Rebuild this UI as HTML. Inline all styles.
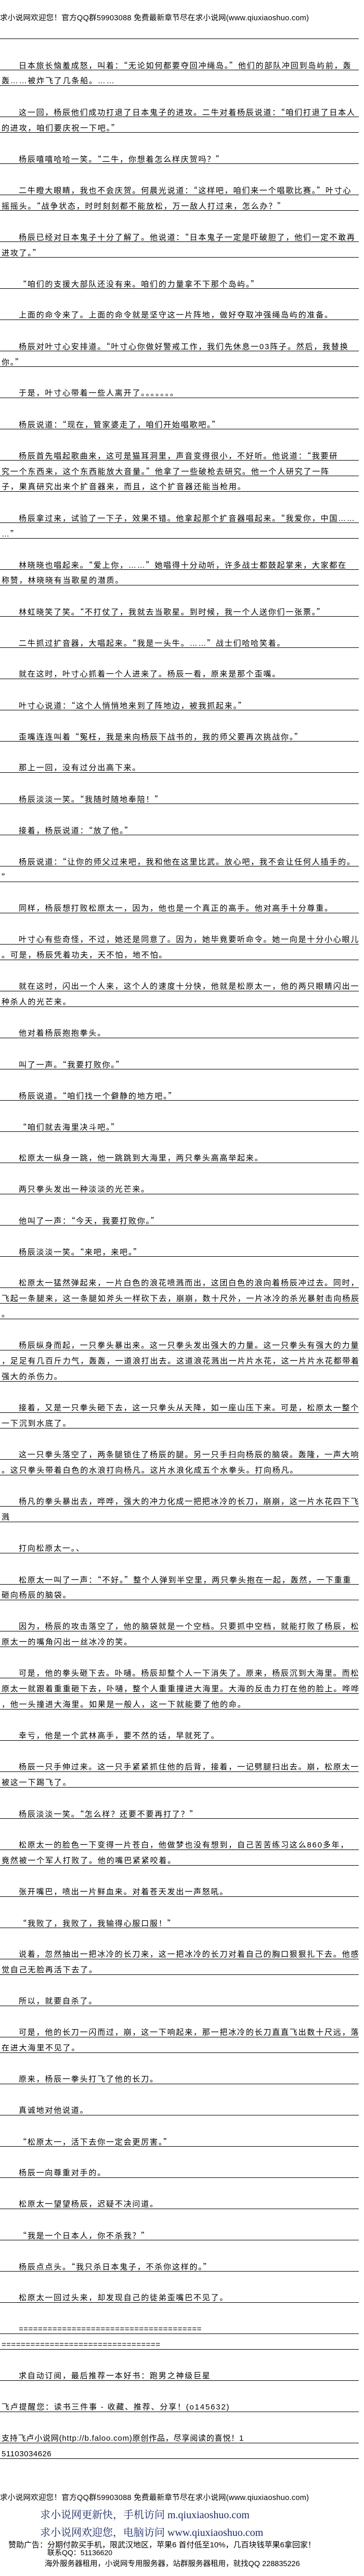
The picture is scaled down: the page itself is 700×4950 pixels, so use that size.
<!DOCTYPE html>
<html><head><meta charset="utf-8">
<style>
html,body{margin:0;padding:0;background:#fff;}
body{width:700px;height:4950px;position:relative;overflow:hidden;font-family:"Liberation Sans","Noto Sans CJK SC",sans-serif;color:#000;}
#hdr{position:absolute;left:0;top:23px;font-size:14.5px;white-space:nowrap;letter-spacing:0.3px;}
#rule0{position:absolute;left:0;top:74px;width:690px;height:1px;background:#000;}
#main{position:absolute;left:0;top:105px;width:690px;}
.p{margin-bottom:30px;}
.l{height:30px;box-sizing:border-box;border-bottom:1px solid #000;padding-top:13px;line-height:16px;font-size:15px;letter-spacing:1.8px;white-space:nowrap;overflow:hidden;padding-left:3px;}
.l.f{padding-left:36px;}
.q{font-family:"Noto Sans CJK SC",sans-serif;}
.ft{position:absolute;white-space:nowrap;}
.blue{font-family:"Liberation Serif","Noto Serif CJK SC",serif;font-size:20px;color:#1b2b63;left:77px;}
.ad{font-size:15px;}
</style></head><body>
<div id="hdr">求小说网欢迎您！官方QQ群59903088 免费最新章节尽在求小说网(www.qiuxiaoshuo.com)</div>
<div id="rule0"></div>
<div id="main">
<div class="p"><div class="l f">日本旅长恼羞成怒，叫着：<span class="q">“</span>无论如何都要夺回冲绳岛。<span class="q">”</span>他们的部队冲回到岛屿前，轰</div><div class="l">轰……被炸飞了几条船。……</div></div>
<div class="p"><div class="l f">这一回，杨辰他们成功打退了日本鬼子的进攻。二牛对着杨辰说道：<span class="q">“</span>咱们打退了日本人</div><div class="l">的进攻，咱们要庆祝一下吧。<span class="q">”</span></div></div>
<div class="p"><div class="l f">杨辰嘻嘻哈哈一笑。<span class="q">“</span>二牛，你想着怎么样庆贺吗？<span class="q">”</span></div></div>
<div class="p"><div class="l f">二牛瞪大眼睛，我也不会庆贺。何晨光说道：<span class="q">“</span>这样吧，咱们来一个唱歌比赛。<span class="q">”</span>叶寸心</div><div class="l">摇摇头。<span class="q">“</span>战争状态，时时刻刻都不能放松，万一敌人打过来，怎么办？<span class="q">”</span></div></div>
<div class="p"><div class="l f">杨辰已经对日本鬼子十分了解了。他说道：<span class="q">“</span>日本鬼子一定是吓破胆了，他们一定不敢再</div><div class="l">进攻了。<span class="q">”</span></div></div>
<div class="p"><div class="l f"><span class="q">“</span>咱们的支援大部队还没有来。咱们的力量拿不下那个岛屿。<span class="q">”</span></div></div>
<div class="p"><div class="l f">上面的命令来了。上面的命令就是坚守这一片阵地，做好夺取冲强绳岛屿的准备。</div></div>
<div class="p"><div class="l f">杨辰对叶寸心安排道。<span class="q">“</span>叶寸心你做好警戒工作，我们先休息一03阵子。然后，我替换</div><div class="l">你。<span class="q">”</span></div></div>
<div class="p"><div class="l f">于是，叶寸心带着一些人离开了。。。。。。。</div></div>
<div class="p"><div class="l f">杨辰说道：<span class="q">“</span>现在，管家婆走了，咱们开始唱歌吧。<span class="q">”</span></div></div>
<div class="p"><div class="l f">杨辰首先唱起歌曲来，这可是猫耳洞里，声音变得很小，不好听。他说道：<span class="q">“</span>我要研</div><div class="l">究一个东西来，这个东西能放大音量。<span class="q">”</span>他拿了一些破枪去研究。他一个人研究了一阵</div><div class="l">子，果真研究出来个扩音器来，而且，这个扩音器还能当枪用。</div></div>
<div class="p"><div class="l f">杨辰拿过来，试验了一下子，效果不错。他拿起那个扩音器唱起来。<span class="q">“</span>我爱你，中国……</div><div class="l">…<span class="q">”</span></div></div>
<div class="p"><div class="l f">林晓晓也唱起来。<span class="q">“</span>爱上你，……<span class="q">”</span>她唱得十分动听，许多战士都鼓起掌来，大家都在</div><div class="l">称赞，林晓晓有当歌星的潜质。</div></div>
<div class="p"><div class="l f">林虹晓笑了笑。<span class="q">“</span>不打仗了，我就去当歌星。到时候，我一个人送你们一张票。<span class="q">”</span></div></div>
<div class="p"><div class="l f">二牛抓过扩音器，大唱起来。<span class="q">“</span>我是一头牛。……<span class="q">”</span>战士们哈哈笑着。</div></div>
<div class="p"><div class="l f">就在这时，叶寸心抓着一个人进来了。杨辰一看，原来是那个歪嘴。</div></div>
<div class="p"><div class="l f">叶寸心说道：<span class="q">“</span>这个人悄悄地来到了阵地边，被我抓起来。<span class="q">”</span></div></div>
<div class="p"><div class="l f">歪嘴连连叫着<span class="q">“</span>冤枉，我是来向杨辰下战书的，我的师父要再次挑战你。<span class="q">”</span></div></div>
<div class="p"><div class="l f">那上一回，没有过分出高下来。</div></div>
<div class="p"><div class="l f">杨辰淡淡一笑。<span class="q">“</span>我随时随地奉陪！<span class="q">”</span></div></div>
<div class="p"><div class="l f">接着，杨辰说道：<span class="q">“</span>放了他。<span class="q">”</span></div></div>
<div class="p"><div class="l f">杨辰说道：<span class="q">“</span>让你的师父过来吧，我和他在这里比武。放心吧，我不会让任何人插手的。</div><div class="l"><span class="q">”</span></div></div>
<div class="p"><div class="l f">同样，杨辰想打败松原太一，因为，他也是一个真正的高手。他对高手十分尊重。</div></div>
<div class="p"><div class="l f">叶寸心有些奇怪，不过，她还是同意了。因为，她毕竟要听命令。她一向是十分小心眼儿</div><div class="l">。可是，杨辰凭着功夫，天不怕，地不怕。</div></div>
<div class="p"><div class="l f">就在这时，闪出一个人来，这个人的速度十分快，他就是松原太一，他的两只眼睛闪出一</div><div class="l">种杀人的光芒来。</div></div>
<div class="p"><div class="l f">他对着杨辰抱抱拳头。</div></div>
<div class="p"><div class="l f">叫了一声。<span class="q">“</span>我要打败你。<span class="q">”</span></div></div>
<div class="p"><div class="l f">杨辰说道。<span class="q">“</span>咱们找一个僻静的地方吧。<span class="q">”</span></div></div>
<div class="p"><div class="l f"><span class="q">“</span>咱们就去海里决斗吧。<span class="q">”</span></div></div>
<div class="p"><div class="l f">松原太一纵身一跳，他一跳跳到大海里，两只拳头高高举起来。</div></div>
<div class="p"><div class="l f">两只拳头发出一种淡淡的光芒来。</div></div>
<div class="p"><div class="l f">他叫了一声：<span class="q">“</span>今天，我要打败你。<span class="q">”</span></div></div>
<div class="p"><div class="l f">杨辰淡淡一笑。<span class="q">“</span>来吧，来吧。<span class="q">”</span></div></div>
<div class="p"><div class="l f">松原太一猛然弹起来，一片白色的浪花喷溅而出，这团白色的浪向着杨辰冲过去。同时，</div><div class="l">飞起一条腿来，这一条腿如斧头一样砍下去，崩崩，数十尺外，一片冰冷的杀光暴射击向杨辰</div><div class="l">。</div></div>
<div class="p"><div class="l f">杨辰纵身而起，一只拳头暴出来。这一只拳头发出强大的力量。这一只拳头有强大的力量</div><div class="l">，足足有几百斤力气，轰轰，一道浪打出去。这道浪花溅出一片片水花，这一片片水花都带着</div><div class="l">强大的杀伤力。</div></div>
<div class="p"><div class="l f">接着，又是一只拳头砸下去，这一只拳头从天降，如一座山压下来。可是，松原太一整个</div><div class="l">一下沉到水底了。</div></div>
<div class="p"><div class="l f">这一只拳头落空了，两条腿锁住了杨辰的腿。另一只手扫向杨辰的脑袋。轰隆，一声大响</div><div class="l">。这只拳头带着白色的水浪打向杨凡。这片水浪化成五个水拳头。打向杨凡。</div></div>
<div class="p"><div class="l f">杨凡的拳头暴出去，哗哗，强大的冲力化成一把把冰冷的长刀，崩崩，这一片水花四下飞</div><div class="l">溅</div></div>
<div class="p"><div class="l f">打向松原太一。、</div></div>
<div class="p"><div class="l f">松原太一叫了一声：<span class="q">“</span>不好。<span class="q">”</span>整个人弹到半空里，两只拳头抱在一起，轰然，一下重重</div><div class="l">砸向杨辰的脑袋。</div></div>
<div class="p"><div class="l f">因为，杨辰的攻击落空了，他的脑袋就是一个空档。只要抓中空档，就能打败了杨辰，松</div><div class="l">原太一的嘴角闪出一丝冰冷的笑。</div></div>
<div class="p"><div class="l f">可是，他的拳头砸下去。卟嗵。杨辰却整个人一下消失了。原来，杨辰沉到大海里。而松</div><div class="l">原太一就跟着重重砸下去，卟嗵，整个人重重撞进大海里。大海的反击力打在他的脸上。哗哗</div><div class="l">，他一头撞进大海里。如果是一般人，这一下就能要了他的命。</div></div>
<div class="p"><div class="l f">幸亏，他是一个武林高手，要不然的话，早就死了。</div></div>
<div class="p"><div class="l f">杨辰一只手伸过来。这一只手紧紧抓住他的后背，接着，一记劈腿扫出去。崩，松原太一</div><div class="l">被这一下踢飞了。</div></div>
<div class="p"><div class="l f">杨辰淡淡一笑。<span class="q">“</span>怎么样？还要不要再打了？<span class="q">”</span></div></div>
<div class="p"><div class="l f">松原太一的脸色一下变得一片苍白，他做梦也没有想到，自己苦苦练习这么860多年，</div><div class="l">竟然被一个军人打败了。他的嘴巴紧紧咬着。</div></div>
<div class="p"><div class="l f">张开嘴巴，喷出一片鲜血来。对着苍天发出一声怒吼。</div></div>
<div class="p"><div class="l f"><span class="q">“</span>我败了，我败了，我输得心服口服！<span class="q">”</span></div></div>
<div class="p"><div class="l f">说着，忽然抽出一把冰冷的长刀来，这一把冰冷的长刀对着自己的胸口狠狠扎下去。他感</div><div class="l">觉自己无脸再活下去了。</div></div>
<div class="p"><div class="l f">所以，就要自杀了。</div></div>
<div class="p"><div class="l f">可是，他的长刀一闪而过，崩，这一下响起来，那一把冰冷的长刀直直飞出数十尺远，落</div><div class="l">在进大海里不见了。</div></div>
<div class="p"><div class="l f">原来，杨辰一拳头打飞了他的长刀。</div></div>
<div class="p"><div class="l f">真诚地对他说道。</div></div>
<div class="p"><div class="l f"><span class="q">“</span>松原太一，活下去你一定会更厉害。<span class="q">”</span></div></div>
<div class="p"><div class="l f">杨辰一向尊重对手的。</div></div>
<div class="p"><div class="l f">松原太一望望杨辰，迟疑不决问道。</div></div>
<div class="p"><div class="l f"><span class="q">“</span>我是一个日本人，你不杀我？<span class="q">”</span></div></div>
<div class="p"><div class="l f">杨辰点点头。<span class="q">“</span>我只杀日本鬼子，不杀你这样的。<span class="q">”</span></div></div>
<div class="p"><div class="l f">松原太一回过头来，却发现自己的徒弟歪嘴巴不见了。</div></div>
<div class="p"><div class="l f" style="letter-spacing:0.5px">======================================</div><div class="l" style="letter-spacing:0.5px">=================================</div></div>
<div class="p"><div class="l f">求自动订阅，最后推荐一本好书：跑男之神级巨星</div></div>
<div class="p"><div class="l">飞卢提醒您：读书三件事 - 收藏、推荐、分享！(o145632)</div></div>
<div class="p"><div class="l" style="letter-spacing:0.8px">支持飞卢小说网(http://b.faloo.com)原创作品，尽享阅读的喜悦！1</div><div class="l" style="letter-spacing:0.5px">51103034626</div></div>
</div>
<div class="ft" style="left:0;top:4788px;font-size:14.5px;letter-spacing:0.3px;">求小说网欢迎您！官方QQ群59903088 免费最新章节尽在求小说网(www.qiuxiaoshuo.com)</div>
<div class="ft blue" style="top:4816px;">求小说网更新快，手机访问 m.qiuxiaoshuo.com</div>
<div class="ft blue" style="top:4850px;">求小说网欢迎您，电脑访问 www.qiuxiaoshuo.com</div>
<div class="ft ad" style="left:16px;top:4879px;">赞助广告：分期付款买手机，限武汉地区，苹果6 首付低至10%，几百块钱苹果6拿回家！</div>
<div class="ft ad" style="left:91px;top:4895px;font-size:14px;">联系QQ：51136620</div>
<div class="ft ad" style="left:86px;top:4915px;font-size:14.5px;">海外服务器租用，小说网专用服务器，站群服务器租用，就找QQ 228835226</div>
</body></html>
